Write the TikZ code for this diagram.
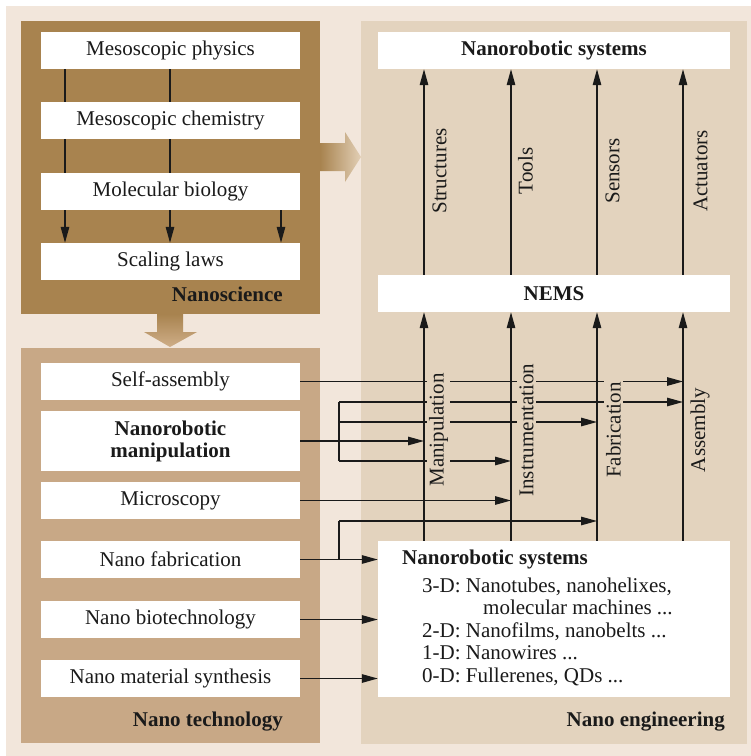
\documentclass[tikz,border=0pt]{standalone}
\usepackage{fontspec}
\setmainfont{Liberation Serif}
\usetikzlibrary{arrows.meta,calc}
\definecolor{outerbg}{HTML}{F2E6DB}
\definecolor{scibg}{HTML}{A8834F}
\definecolor{techbg}{HTML}{C8A886}
\definecolor{engbg}{HTML}{E3D3BE}
\definecolor{arrlight}{HTML}{E2CFB5}
\definecolor{arrdown}{HTML}{CFAE88}
\definecolor{txt}{HTML}{1A1A1A}
\begin{document}
\begin{tikzpicture}[x=1pt,y=-1pt,
  every node/.style={font=\fontsize{21}{22}\selectfont, text=txt},
  wbox/.style={fill=white, minimum width=259pt, minimum height=37pt, inner sep=0pt},
  rbox/.style={fill=white, minimum width=352pt, minimum height=37pt, inner sep=0pt},
  arr/.style={draw=txt, line width=1.3pt, -{Triangle[length=16pt,width=8.5pt]}},
  ln/.style={draw=txt, line width=1.3pt},
  vlab/.style={rotate=90, inner sep=0pt},
  hlab/.style={rotate=90, fill=engbg, inner sep=2pt},
  ttl/.style={font=\fontsize{21}{22}\selectfont\bfseries},
  lbl/.style={inner sep=0pt}
]
\useasboundingbox (0,0) rectangle (751,756);
% backgrounds
\fill[outerbg] (6,6) rectangle (751,756);
\fill[scibg] (21,21) rectangle (320,314);
\fill[techbg] (21,348) rectangle (320,743);
\fill[engbg] (361,21) rectangle (747,744);
% fat arrows
\shade[left color=scibg, right color=arrlight]
  (320,143) -- (345,143) -- (345,132) -- (361,157) -- (345,182) -- (345,171) -- (320,171) -- cycle;
\shade[top color=scibg, bottom color=arrdown]
  (157,314) -- (183,314) -- (183,332) -- (197,332) -- (170,347) -- (144,332) -- (157,332) -- cycle;

% Nanoscience
\node[wbox] (phys) at (170.5,50.5) {Mesoscopic physics};
\node[wbox] (chem) at (170.5,120.5) {Mesoscopic chemistry};
\node[wbox] (bio) at (170.5,191.5) {Molecular biology};
\node[wbox] (scal) at (170.5,261.5) {Scaling laws};
\node[ttl, lbl, anchor=base east] (nsci) at (283,301) {Nanoscience};
\coordinate (xa) at (65,0);
\coordinate (xb) at (170,0);
\coordinate (xc) at (281,0);
\draw[ln] (phys.south -| xa) -- (chem.north -| xa);
\draw[ln] (phys.south -| xb) -- (chem.north -| xb);
\draw[ln] (chem.south -| xa) -- (bio.north -| xa);
\draw[ln] (chem.south -| xb) -- (bio.north -| xb);
\draw[arr] (bio.south -| xa) -- (scal.north -| xa);
\draw[arr] (bio.south -| xb) -- (scal.north -| xb);
\draw[arr] (bio.south -| xc) -- (scal.north -| xc);

% Nano technology
\node[wbox] (self) at (170.5,381.5) {Self-assembly};
\node[wbox, minimum height=60pt, align=center, ttl] (manip) at (170.5,441) {Nanorobotic\\manipulation};
\node[wbox] (micro) at (170.5,500.5) {Microscopy};
\node[wbox] (fab) at (170.5,559.5) {Nano fabrication};
\node[wbox] (biot) at (170.5,619.5) {Nano biotechnology};
\node[wbox] (synth) at (170.5,678.5) {Nano material synthesis};
\node[ttl, lbl, anchor=base east] (ntech) at (283,726) {Nano technology};

% Nano engineering
\node[rbox, ttl] (top) at (554,50.5) {Nanorobotic systems};
\node[rbox, ttl] (nems) at (554,293.5) {NEMS};
\node[fill=white, minimum width=352pt, minimum height=156pt, inner sep=0pt] (bsys) at (554,619) {};
\node[ttl, lbl, anchor=base west] (bsyst) at (402,564) {Nanorobotic systems};
\node[lbl, anchor=base west] (l3) at (422,592) {3-D: Nanotubes, nanohelixes,};
\node[lbl, anchor=base west] (l3b) at (483,614.5) {molecular machines ...};
\node[lbl, anchor=base west] (l2) at (422,637) {2-D: Nanofilms, nanobelts ...};
\node[lbl, anchor=base west] (l1) at (422,659.5) {1-D: Nanowires ...};
\node[lbl, anchor=base west] (l0) at (422,682) {0-D: Fullerenes, QDs ...};
\node[ttl, lbl, anchor=base east] (neng) at (725,726) {Nano engineering};

\coordinate (v1) at (424,0);
\coordinate (v2) at (511,0);
\coordinate (v3) at (597,0);
\coordinate (v4) at (683,0);
\foreach \v in {v1,v2,v3,v4}{
  \draw[arr] (nems.north -| \v) -- (top.south -| \v);
  \draw[arr] (bsys.north -| \v) -- (nems.south -| \v);
}
\node[vlab] (lst) at (439.5,171) {Structures};
\node[vlab] (lto) at (525.5,171) {Tools};
\node[vlab] (lse) at (612.5,171) {Sensors};
\node[vlab] (lac) at (700.5,171) {Actuators};

% horizontal connectors
\coordinate (b1) at (339,402);
\coordinate (b2) at (339,422);
\coordinate (b3) at (339,461);
\coordinate (b4) at (339,521);
\draw[arr] (self.east) -- (self.east -| v4);
\draw[ln] (b1) -- (b3);
\draw[arr] (b1) -- (b1 -| v4);
\draw[arr] (b2) -- (b2 -| v3);
\draw[arr] (manip.east) -- (manip.east -| v1);
\draw[arr] (b3) -- (b3 -| v2);
\draw[arr] (micro.east) -- (micro.east -| v2);
\draw[ln] (fab.east -| b4) -- (b4);
\draw[arr] (b4) -- (b4 -| v3);
\draw[arr] (fab.east) -- (fab.east -| bsys.west);
\draw[arr] (biot.east) -- (biot.east -| bsys.west);
\draw[arr] (synth.east) -- (synth.east -| bsys.west);

\node[hlab] (lma) at (438.5,430) {Manipulation};
\node[hlab] (lin) at (526.5,430) {Instrumentation};
\node[hlab] (lfa) at (613.5,430) {Fabrication};
\node[hlab] (las) at (700,430) {Assembly};
\end{tikzpicture}
\end{document}
